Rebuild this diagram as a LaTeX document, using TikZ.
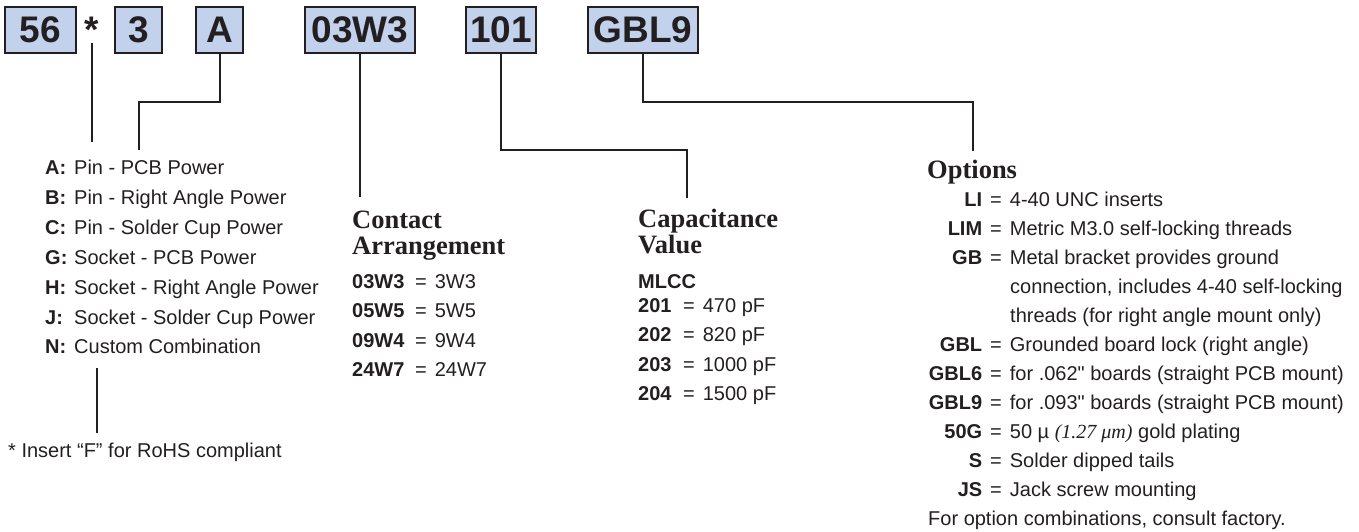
\documentclass[tikz,border=0pt]{standalone}
\usepackage{fontspec}
\setmainfont{Liberation Sans}
\newfontfamily\headfont{Liberation Serif}
\newfontfamily\quotefont{Liberation Sans}
\newcommand{\inch}{{\quotefont"}}
\definecolor{ink}{RGB}{35,31,32}
\definecolor{boxblue}{RGB}{194,210,236}

\begin{document}
\begin{tikzpicture}[
    x=1pt, y=-1pt,
    codebox/.style={draw=ink, line width=2.4pt, fill=boxblue, minimum height=46pt, inner sep=0pt, text=ink, font=\fontsize{37}{40}\selectfont\bfseries},
    wire/.style={draw=ink, line width=2pt},
    item/.style={anchor=base west, inner sep=0pt, text=ink, font=\fontsize{20}{24}\selectfont},
    head/.style={anchor=base west, inner sep=0pt, text=ink, font=\fontsize{26.5}{30}\selectfont\headfont\bfseries}
]
    \useasboundingbox (0,0) rectangle (1359,531);

    % Part number boxes
    \node[codebox, minimum width=71pt] (b56) at (40.5,30) {56};
    \node[inner sep=0pt, text=ink, font=\fontsize{37}{40}\selectfont\bfseries] (star) at (92,30) {*};
    \node[codebox, minimum width=47pt] (b3) at (138.5,30) {3};
    \node[codebox, minimum width=47pt] (bA) at (219.5,30) {A};
    \node[codebox, minimum width=110pt] (bArr) at (360,30) {03W3};
    \node[codebox, minimum width=70pt] (bCap) at (501,30) {101};
    \node[codebox, minimum width=110pt] (bOpt) at (643,30) {GBL9};

    % Connector ends
    \coordinate (starEnd) at (92,142);
    \coordinate (aEnd) at (139,150);
    \coordinate (arrEnd) at (360,197);
    \coordinate (capEnd) at (687,198);
    \coordinate (optEnd) at (973,151);
    \coordinate (rohsTop) at (97,368);
    \coordinate (rohsBot) at (97,433);

    % Connectors
    \draw[wire] (star.south) -- (starEnd);
    \draw[wire] (bA.south) -- ++(0,48) -| (aEnd);
    \draw[wire] (bArr.south) -- (arrEnd);
    \draw[wire] (bCap.south) -- ++(0,96) -| (capEnd);
    \draw[wire] (bOpt.south) -- ++(0,48) -| (optEnd);
    \draw[wire] (rohsTop) -- (rohsBot);

    % Contact type
    \node[item] (tA) at (45,174) {\makebox[29pt][l]{\bfseries A:}Pin - PCB Power};
    \node[item] (tB) at (45,204) {\makebox[29pt][l]{\bfseries B:}Pin - Right Angle Power};
    \node[item] (tC) at (45,234) {\makebox[29pt][l]{\bfseries C:}Pin - Solder Cup Power};
    \node[item] (tG) at (45,264) {\makebox[29pt][l]{\bfseries G:}Socket - PCB Power};
    \node[item] (tH) at (45,294) {\makebox[29pt][l]{\bfseries H:}Socket - Right Angle Power};
    \node[item] (tJ) at (45,324) {\makebox[29pt][l]{\bfseries J:}Socket - Solder Cup Power};
    \node[item] (tN) at (45,353) {\makebox[29pt][l]{\bfseries N:}Custom Combination};
    \node[item] (rohs) at (8,457) {* Insert “F” for RoHS compliant};

    % Contact arrangement
    \node[head] (arrHead) at (352,228) {Contact};
    \node[head] (arrHead2) at (352,254) {Arrangement};
    \node[item] (arr1) at (352,288) {\makebox[63pt][l]{\bfseries 03W3}=\hspace{8pt}3W3};
    \node[item] (arr2) at (352,317.5) {\makebox[63pt][l]{\bfseries 05W5}=\hspace{8pt}5W5};
    \node[item] (arr3) at (352,347) {\makebox[63pt][l]{\bfseries 09W4}=\hspace{8pt}9W4};
    \node[item] (arr4) at (352,376.5) {\makebox[63pt][l]{\bfseries 24W7}=\hspace{8pt}24W7};

    % Capacitance value
    \node[head] (capHead) at (638,227) {Capacitance};
    \node[head] (capHead2) at (638,253) {Value};
    \node[item] (mlcc) at (638,288) {\bfseries MLCC};
    \node[item] (cap1) at (638,312) {\makebox[45pt][l]{\bfseries 201}=\hspace{8pt}470 pF};
    \node[item] (cap2) at (638,341.5) {\makebox[45pt][l]{\bfseries 202}=\hspace{8pt}820 pF};
    \node[item] (cap3) at (638,371) {\makebox[45pt][l]{\bfseries 203}=\hspace{8pt}1000 pF};
    \node[item] (cap4) at (638,400) {\makebox[45pt][l]{\bfseries 204}=\hspace{8pt}1500 pF};

    % Options
    \node[head] (optHead) at (927,178) {Options};
    \node[item] (o1) at (928,206) {\makebox[54pt][r]{\bfseries LI}\hspace{8pt}=\hspace{8pt}4-40 UNC inserts};
    \node[item] (o2) at (928,235) {\makebox[54pt][r]{\bfseries LIM}\hspace{8pt}=\hspace{8pt}Metric M3.0 self-locking threads};
    \node[item] (o3) at (928,264) {\makebox[54pt][r]{\bfseries GB}\hspace{8pt}=\hspace{8pt}Metal bracket provides ground};
    \node[item] (o3b) at (1010,293) {connection, includes 4-40 self-locking};
    \node[item] (o3c) at (1010,322) {threads (for right angle mount only)};
    \node[item] (o4) at (928,351) {\makebox[54pt][r]{\bfseries GBL}\hspace{8pt}=\hspace{8pt}Grounded board lock (right angle)};
    \node[item] (o5) at (928,380) {\makebox[54pt][r]{\bfseries GBL6}\hspace{8pt}=\hspace{8pt}for .062\inch{} boards (straight PCB mount)};
    \node[item] (o6) at (928,409) {\makebox[54pt][r]{\bfseries GBL9}\hspace{8pt}=\hspace{8pt}for .093\inch{} boards (straight PCB mount)};
    \node[item] (o7) at (928,438) {\makebox[54pt][r]{\bfseries 50G}\hspace{8pt}=\hspace{8pt}50 µ {\headfont\itshape (1.27 μm)} gold plating};
    \node[item] (o8) at (928,467) {\makebox[54pt][r]{\bfseries S}\hspace{8pt}=\hspace{8pt}Solder dipped tails};
    \node[item] (o9) at (928,496) {\makebox[54pt][r]{\bfseries JS}\hspace{8pt}=\hspace{8pt}Jack screw mounting};
    \node[item] (oFoot) at (928,525) {For option combinations, consult factory.};
\end{tikzpicture}
\end{document}
